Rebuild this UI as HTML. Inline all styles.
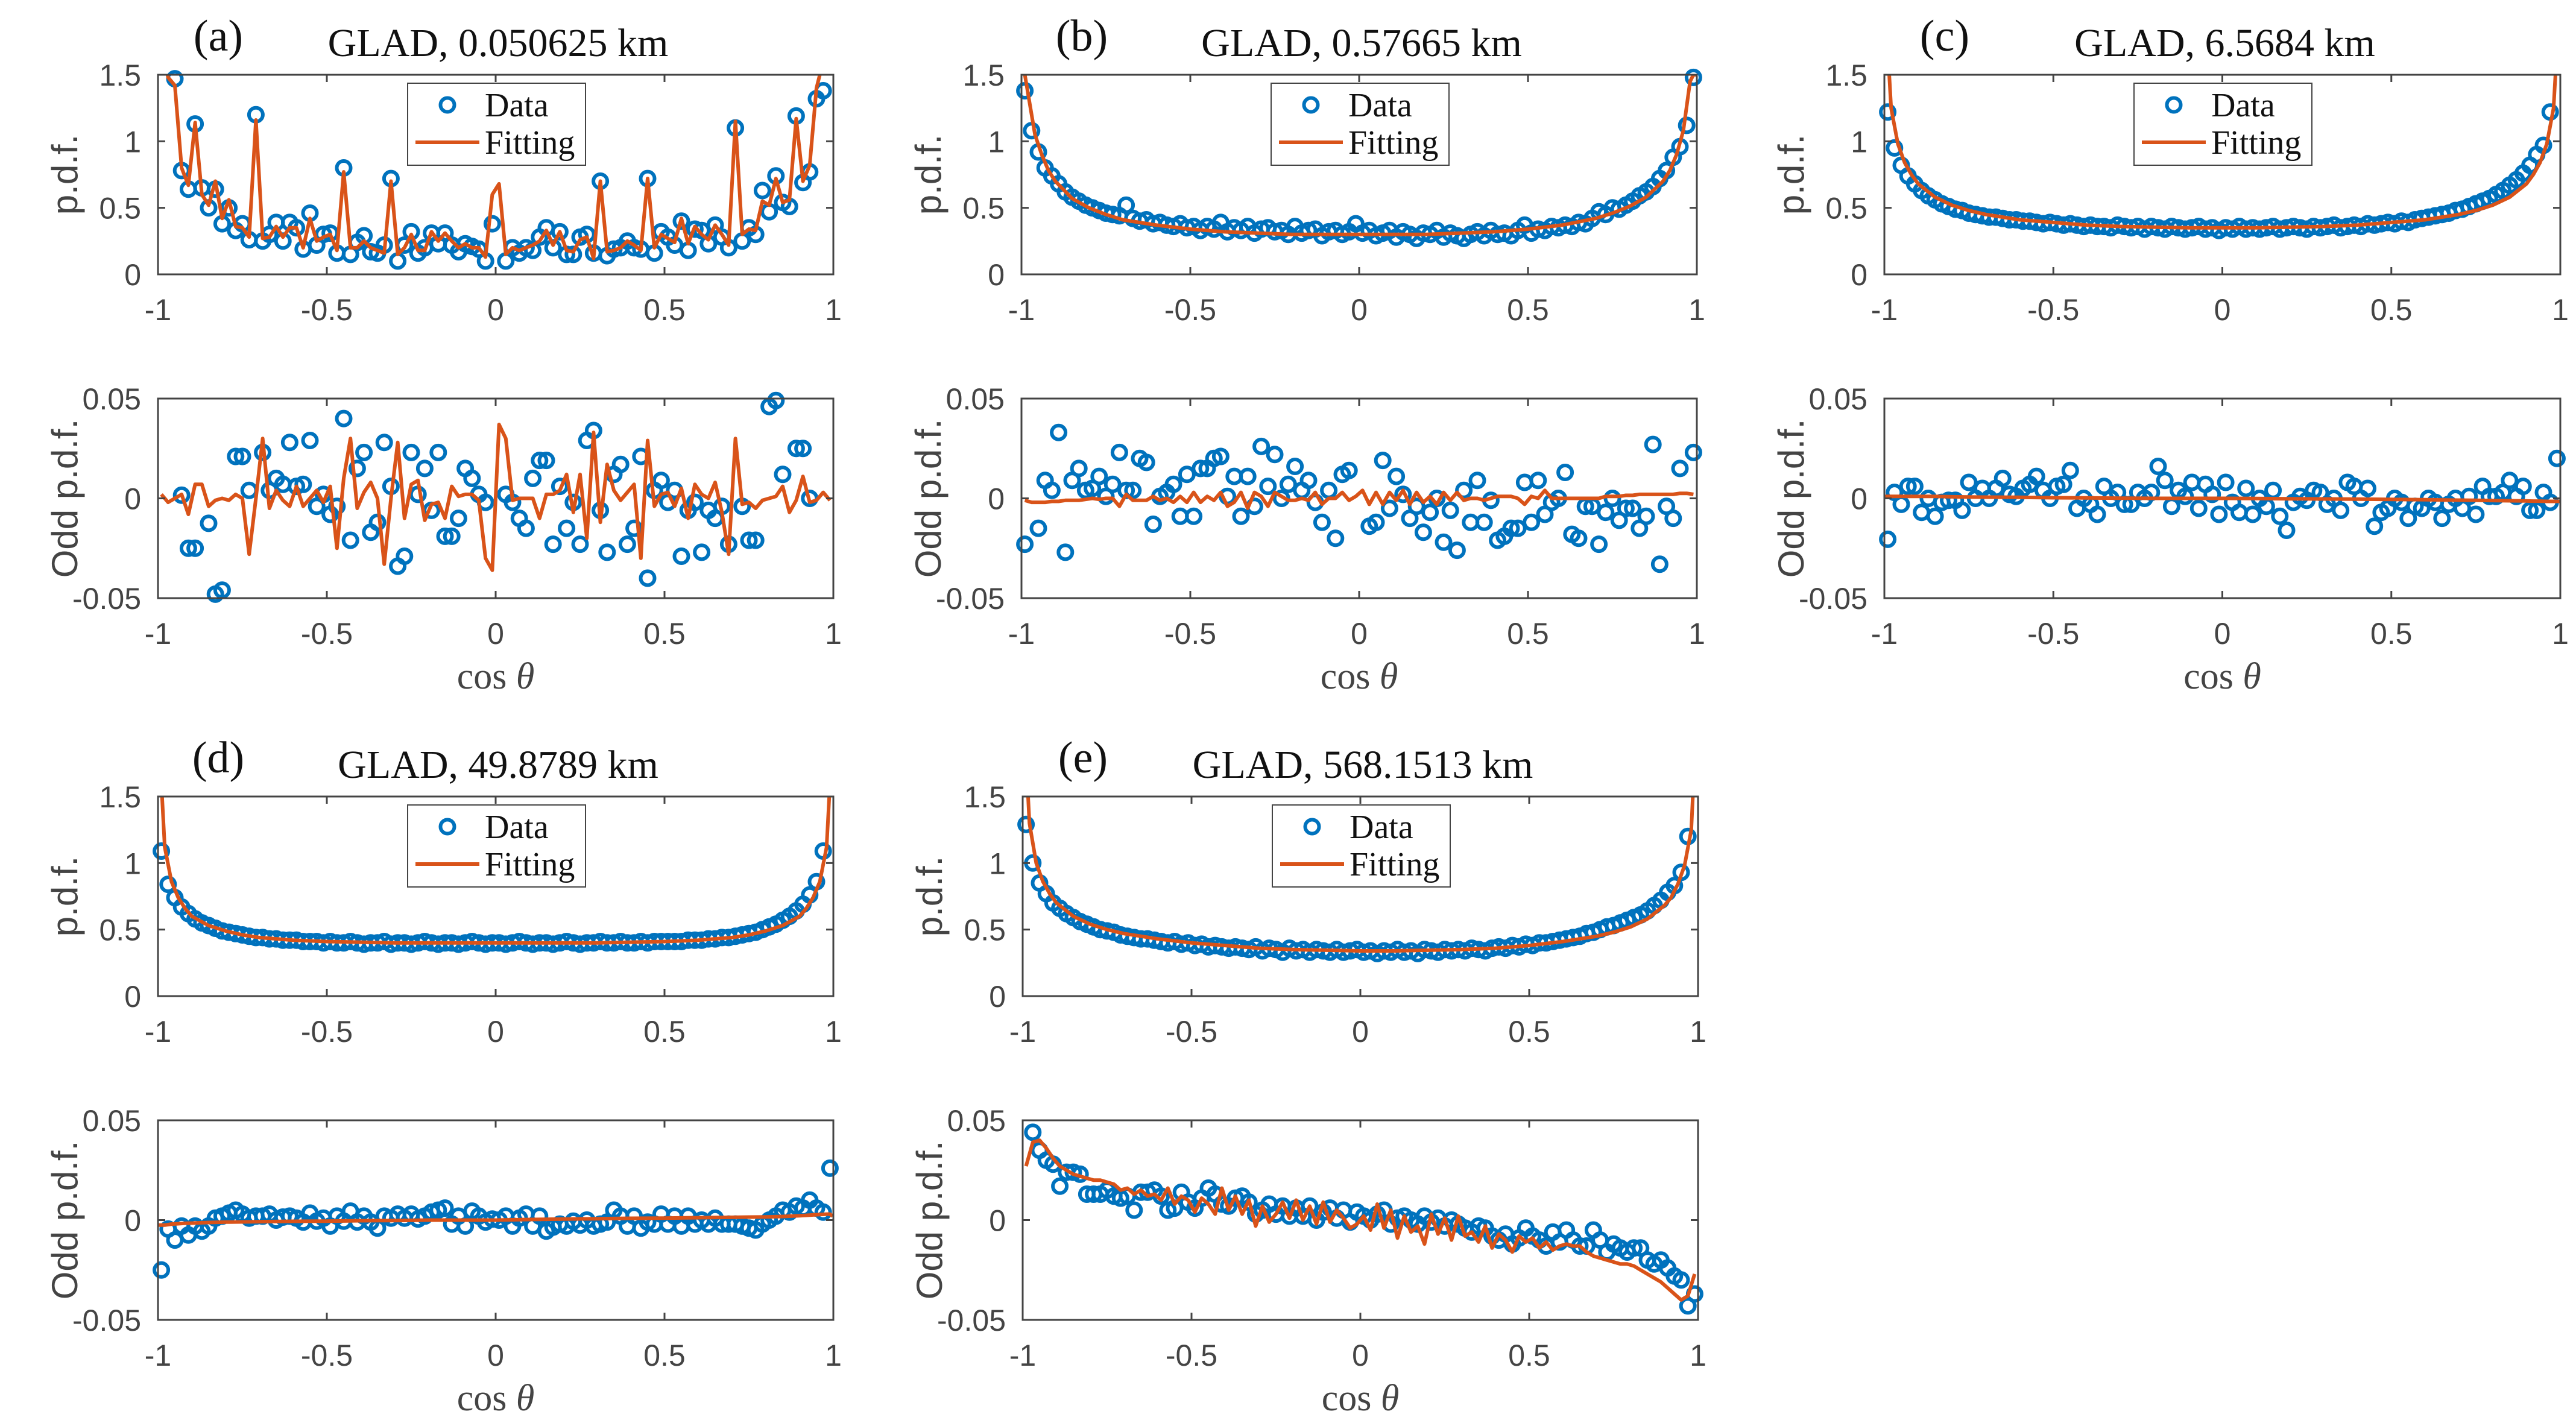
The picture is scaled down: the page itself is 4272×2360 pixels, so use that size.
<!DOCTYPE html>
<html><head><meta charset="utf-8"><style>
html,body{margin:0;padding:0;background:#fff;}
svg{display:block;}
</style></head><body>
<svg id="fig" width="4272" height="2360" viewBox="0 0 4272 2360" xmlns="http://www.w3.org/2000/svg"></svg>
<script>
// ---------- data (100 bins, cos theta = -0.99 + 0.02 i) ----------
const fitX = [-0.998,-0.99,-0.98,-0.96,-0.94,-0.92,-0.9,-0.85,-0.8,-0.75,-0.7,-0.6,-0.5,-0.4,-0.3,-0.2,-0.1,0,0.1,0.2,0.3,0.4,0.5,0.6,0.7,0.75,0.8,0.85,0.9,0.92,0.94,0.96,0.98,0.99,0.998];
const xTicks = [-1,-0.5,0,0.5,1];
const xTickLabels = ["-1","-0.5","0","0.5","1"];
const pdfTicks = [0,0.5,1,1.5];
const pdfTickLabels = ["0","0.5","1","1.5"];
const oddTicks = [-0.05,0,0.05];
const oddTickLabels = ["-0.05","0","0.05"];

const aPdf = [null,null,1.47,0.78,0.64,1.13,0.65,0.5,0.64,0.38, 0.5,0.33,0.38,0.26,1.2,0.25,0.3,0.39,0.25,0.39, 0.35,0.19,0.46,0.22,0.3,0.31,0.16,0.8,0.15,0.24, 0.29,0.17,0.16,0.22,0.72,0.1,0.22,0.32,0.16,0.2, 0.31,0.23,0.31,0.22,0.17,0.23,0.21,0.19,0.1,0.38, null,0.1,0.2,0.16,0.2,0.18,0.28,0.35,0.2,0.32, 0.15,0.15,0.28,0.3,0.16,0.7,0.14,0.19,0.2,0.25, 0.2,0.19,0.72,0.16,0.32,0.28,0.22,0.4,0.18,0.34, 0.33,0.23,0.37,0.28,0.2,1.1,0.25,0.35,0.3,0.63, 0.47,0.74,0.54,0.51,1.19,0.69,0.77,1.32,1.38,null];
const aPdfFit = [1.7,1.48,1.42,0.8,0.67,1.14,0.6,0.52,0.7,0.42, 0.56,0.36,0.35,0.28,1.16,0.27,0.28,0.36,0.28,0.35, 0.35,0.2,0.42,0.25,0.28,0.3,0.18,0.77,0.2,0.2, 0.25,0.2,0.18,0.16,0.7,0.15,0.2,0.3,0.18,0.18, 0.32,0.25,0.31,0.25,0.2,0.23,0.2,0.2,0.13,0.6, 0.68,0.15,0.2,0.18,0.2,0.22,0.25,0.33,0.22,0.32, 0.18,0.17,0.26,0.28,0.12,0.7,0.17,0.18,0.2,0.25, 0.22,0.18,0.72,0.2,0.3,0.27,0.24,0.42,0.23,0.36, 0.3,0.26,0.37,0.3,0.22,1.15,0.3,0.34,0.33,0.55, 0.52,0.72,0.54,0.56,1.17,0.7,0.82,1.4,1.6,2.0];
const aOdd = [null,null,null,0.0016,-0.025,-0.025,null,-0.0125,-0.048,-0.046, null,0.021,0.021,0.004,null,0.023,0.004,0.01,0.007,0.028, 0.006,0.007,0.029,-0.004,0.002,-0.008,-0.004,0.04,-0.021,0.015, 0.023,-0.017,-0.012,0.028,0.006,-0.034,-0.029,0.023,0.002,0.015, -0.006,0.023,-0.019,-0.019,-0.01,0.015,0.01,0.002,-0.002,null, null,0.002,-0.002,-0.01,-0.015,0.01,0.019,0.019,-0.023,0.006, -0.015,-0.002,-0.023,0.029,0.034,-0.006,-0.027,0.012,0.017,-0.023, -0.015,0.021,-0.04,0.004,0.009,-0.002,0.004,-0.029,-0.006,-0.002, -0.027,-0.006,-0.01,-0.004,-0.023,null,-0.004,-0.021,-0.021,null, 0.046,0.049,0.012,null,0.025,0.025,0,null,null,null];
const aOddFit = [0.002,-0.002,0,0.002,-0.008,0.007,0.007,-0.004,-0.001,0, -0.001,0.002,0,-0.028,0,0.03,-0.005,0.004,-0.001,-0.004, 0.006,-0.004,0,0.004,-0.002,0.006,-0.025,0.01,0.03,-0.005, 0.003,0.008,0,-0.033,0,0.028,-0.01,0.007,0.009,-0.011, -0.003,-0.002,-0.01,0.006,0.001,0.002,0.002,-0.001,-0.03,-0.036, 0.037,0.03,-0.001,0,0,0,-0.01,0.002,0.002,0.004, 0.012,-0.007,0.012,-0.02,0.033,-0.012,0.017,0.004,-0.001,0.003, 0.007,-0.03,0.029,-0.004,0.002,0.003,-0.004,0.005,-0.01,0.007, 0.002,0,0.008,-0.007,-0.028,0.03,-0.003,-0.002,-0.005,-0.001, 0,0.001,0.006,-0.007,-0.001,0.011,-0.002,-0.001,0.003,-0.001];

const bPdf = [1.38,1.08,0.92,0.8,0.74,0.68,0.62,0.58,0.55,0.52, 0.5,0.48,0.46,0.45,0.44,0.52,0.42,0.4,0.41,0.38, 0.39,0.37,0.36,0.38,0.35,0.36,0.33,0.36,0.34,0.39, 0.32,0.35,0.33,0.36,0.31,0.34,0.35,0.32,0.33,0.3, 0.36,0.31,0.33,0.34,0.29,0.32,0.33,0.3,0.32,0.38, 0.31,0.33,0.29,0.31,0.33,0.28,0.32,0.3,0.27,0.31, 0.3,0.33,0.28,0.31,0.29,0.27,0.3,0.32,0.29,0.33, 0.3,0.31,0.29,0.33,0.37,0.31,0.34,0.33,0.36,0.35, 0.37,0.36,0.39,0.38,0.42,0.47,0.45,0.5,0.49,0.52, 0.55,0.59,0.62,0.66,0.72,0.78,0.88,0.96,1.12,1.48];
const bPdfFit = [1.6,1.5,1.35,1.05,0.9,0.78,0.7,0.57,0.5,0.45,0.41,0.37,0.34,0.32,0.31,0.3,0.3,0.3,0.3,0.3,0.31,0.32,0.34,0.37,0.42,0.46,0.51,0.58,0.7,0.78,0.9,1.08,1.45,1.5,1.5];
const bOdd = [-0.023,null,-0.015,0.009,0.004,0.033,-0.027,0.009,0.015,0.004, 0.005,0.011,0.001,0.007,0.023,0.004,0.004,0.02,0.018,-0.013, 0.001,0.003,0.007,-0.009,0.012,-0.009,0.015,0.015,0.02,0.021, 0.001,0.011,-0.009,0.011,-0.004,0.026,0.006,0.022,0.0,0.007, 0.016,0.004,0.009,-0.002,-0.012,0.004,-0.02,0.012,0.014,null, null,-0.014,-0.012,0.019,-0.005,0.011,0.002,-0.01,-0.004,-0.017, -0.007,0,-0.022,-0.006,-0.026,0.004,-0.012,0.009,-0.012,-0.001, -0.021,-0.019,-0.015,-0.015,0.008,-0.012,0.009,-0.008,-0.002,0, 0.013,-0.018,-0.02,-0.004,-0.004,-0.023,-0.007,0,-0.011,-0.005, -0.005,-0.015,-0.009,0.027,-0.033,-0.004,-0.01,0.015,null,0.023];
const bOddFit = [-0.001,-0.002,-0.002,-0.002,-0.0015,-0.0015,-0.001,-0.001,-0.001,-0.0005, 0,-0.0005,0,0,-0.004,0.002,-0.001,-0.001,-0.001,0.001, -0.001,0,-0.002,0.001,-0.002,0.003,-0.002,0.001,-0.001,0.003, -0.004,-0.002,0.003,-0.005,0.003,0.001,-0.004,0.003,0.001,-0.001, -0.001,0,-0.001,0.003,-0.003,0.0,0.0,0.003,-0.001,0.001, 0.004,-0.003,0.003,-0.003,0.003,-0.001,0.004,-0.003,0.003,-0.002, 0.001,-0.003,0.003,-0.001,0.003,-0.001,0.0,0.0,-0.001,0.0, 0.001,0.001,0.001,0.0,-0.003,0.001,0.0,0.004,0.0,0.0, 0.0,0.0,0.0,0.0,0.0,0.0,0.001,0.001,0.001,0.0015, 0.0015,0.002,0.002,0.002,0.002,0.002,0.002,0.0025,0.0025,0.002];

const cPdf = [1.22,0.95,0.82,0.74,0.68,0.63,0.59,0.56,0.53,0.51, 0.49,0.48,0.46,0.45,0.44,0.43,0.43,0.42,0.41,0.41, 0.4,0.4,0.39,0.38,0.39,0.38,0.37,0.38,0.37,0.36, 0.37,0.36,0.36,0.35,0.37,0.36,0.35,0.36,0.34,0.36, 0.35,0.34,0.36,0.35,0.34,0.35,0.36,0.34,0.35,0.33, 0.35,0.34,0.36,0.34,0.35,0.34,0.35,0.36,0.34,0.35, 0.36,0.35,0.34,0.36,0.35,0.36,0.37,0.35,0.36,0.37, 0.36,0.38,0.37,0.38,0.39,0.38,0.4,0.39,0.41,0.42, 0.43,0.44,0.45,0.46,0.48,0.49,0.51,0.53,0.55,0.57, 0.6,0.63,0.67,0.71,0.76,0.82,0.9,0.97,1.22,null];
const cPdfFit = [3.0,1.7,1.25,0.98,0.84,0.75,0.68,0.58,0.52,0.48,0.45,0.41,0.39,0.37,0.36,0.355,0.35,0.35,0.35,0.355,0.36,0.37,0.39,0.41,0.45,0.48,0.52,0.58,0.68,0.75,0.84,0.98,1.25,1.7,3.0];
const cOdd = [-0.0205,0.003,-0.003,0.006,0.006,-0.007,0,-0.009,-0.002,-0.001, -0.001,-0.006,0.008,0,0.005,0,0.005,0.01,0.002,0.001, 0.005,0.007,0.011,0.004,0,0.006,0.007,0.014,-0.005,0, -0.003,-0.008,0.006,0,0.003,-0.003,-0.003,0.003,0,0.003, 0.016,0.009,-0.004,0.004,0.001,0.008,-0.005,0.007,0.002,-0.008, 0.008,-0.002,-0.007,0.005,-0.008,0,-0.004,0.004,-0.009,-0.016, -0.002,0.001,-0.001,0.004,0.003,-0.003,0,-0.006,0.008,0.006, 0,0.005,-0.014,-0.007,-0.005,0,-0.002,-0.01,-0.004,-0.005, 0,-0.002,-0.01,-0.003,0,-0.005,0.001,-0.008,0.006,0.001, 0.001,0.003,0.009,0.001,0.006,-0.006,-0.006,0.003,-0.002,0.02];
const cOddFit = [0.001,0.001,0.001,0.001,0.001,0.001,0.001,0.001,0.0008,0.0007,0.0006,0.0005,0.0003,0.0002,0.0001,0,0,0,-0.0001,-0.0002,-0.0003,-0.0004,-0.0005,-0.0007,-0.0009,-0.001,-0.0011,-0.0012,-0.0013,-0.0014,-0.0014,-0.0015,-0.0015,-0.0015,-0.0015];

const dPdf = [1.09,0.84,0.74,0.67,0.62,0.58,0.55,0.53,0.51,0.49, 0.48,0.47,0.46,0.45,0.44,0.44,0.43,0.43,0.42,0.42, 0.42,0.41,0.41,0.41,0.4,0.41,0.4,0.4,0.41,0.4, 0.39,0.4,0.4,0.41,0.39,0.4,0.4,0.39,0.4,0.41, 0.4,0.39,0.4,0.4,0.39,0.4,0.41,0.4,0.39,0.4, 0.4,0.39,0.4,0.41,0.4,0.39,0.4,0.4,0.39,0.4, 0.41,0.4,0.39,0.4,0.4,0.41,0.4,0.4,0.41,0.4, 0.4,0.41,0.4,0.41,0.41,0.41,0.41,0.41,0.42,0.42, 0.42,0.43,0.43,0.44,0.44,0.45,0.46,0.47,0.48,0.5, 0.52,0.54,0.57,0.6,0.64,0.69,0.76,0.86,1.09,null];
const dPdfFit = [3.0,1.6,1.12,0.86,0.74,0.66,0.6,0.53,0.49,0.46,0.44,0.42,0.41,0.405,0.4,0.4,0.4,0.4,0.4,0.4,0.4,0.405,0.41,0.42,0.44,0.46,0.49,0.53,0.6,0.66,0.74,0.86,1.12,1.6,3.0];
const dOdd = [-0.025,-0.0045,-0.01,-0.003,-0.0075,-0.003,-0.0055,-0.003,0.001,0.002, 0.0035,0.005,0.003,0.001,0.002,0.002,0.003,0,0.0015,0.002, 0.001,-0.001,0.0035,-0.0005,0.001,-0.003,0.002,-0.0005,0.0045,-0.001, 0.002,-0.001,-0.004,0.002,0.001,0.003,0.001,0.003,0.0005,0.002, 0.004,0.005,0.006,-0.002,0.002,-0.003,0.0045,0.002,-0.001,0.0005, 0,0.002,-0.003,0.001,0.003,-0.003,0.002,-0.0055,-0.0035,-0.002, -0.003,-0.0005,-0.0025,0,-0.003,-0.002,-0.001,0.005,0.002,-0.003, 0.002,-0.004,-0.001,-0.002,0.003,-0.002,0.002,-0.003,0.002,-0.002, 0,-0.002,0.001,-0.002,-0.002,-0.002,-0.003,-0.004,-0.005,-0.002, 0,0.002,0.005,0.004,0.007,0.006,0.01,0.006,0.004,0.026];
const dOddFit = [-0.0025,-0.0025,-0.0025,-0.002,-0.0018,-0.0016,-0.0015,-0.0012,-0.001,-0.0009,-0.0008,-0.0006,-0.0005,-0.0003,-0.0002,0,0,0,0.0003,0.0005,0.0007,0.0009,0.001,0.0012,0.0014,0.0015,0.0016,0.0018,0.0022,0.0024,0.0026,0.0028,0.003,0.003,0.002];

const ePdf = [1.29,1.0,0.85,0.77,0.7,0.66,0.62,0.59,0.56,0.54, 0.52,0.5,0.49,0.48,0.46,0.45,0.44,0.43,0.43,0.42, 0.41,0.4,0.41,0.39,0.4,0.38,0.39,0.37,0.38,0.37, 0.36,0.37,0.36,0.35,0.37,0.34,0.36,0.35,0.33,0.36, 0.34,0.35,0.33,0.35,0.34,0.33,0.35,0.33,0.34,0.35, 0.33,0.34,0.32,0.34,0.33,0.35,0.33,0.34,0.32,0.35, 0.34,0.33,0.35,0.34,0.35,0.34,0.36,0.35,0.34,0.36, 0.37,0.36,0.38,0.37,0.39,0.38,0.4,0.4,0.41,0.42, 0.43,0.44,0.45,0.47,0.48,0.5,0.52,0.53,0.55,0.57, 0.59,0.61,0.64,0.68,0.72,0.78,0.83,0.93,1.2,null];
const ePdfFit = [3.0,1.8,1.3,1.0,0.86,0.77,0.7,0.6,0.54,0.5,0.47,0.43,0.4,0.38,0.36,0.35,0.345,0.34,0.34,0.345,0.35,0.36,0.38,0.41,0.45,0.48,0.52,0.58,0.68,0.74,0.84,0.98,1.25,1.8,3.0];
const eOdd = [null,0.044,0.035,0.03,0.028,0.017,0.024,0.024,0.023,0.013, 0.013,0.013,0.015,0.012,0.011,0.012,0.005,0.014,0.014,0.015, 0.012,0.005,0.006,0.014,0.009,0.006,0.011,0.016,0.013,0.008, 0.007,0.011,0.012,0.009,0.003,0.005,0.008,0.003,0.007,0.002, 0.006,0.002,0.007,0.0,0.004,0.006,0.001,0.005,-0.001,0.004, 0.002,0.0,0.003,0.005,-0.002,0.001,0.002,0.0,-0.002,0.002, -0.001,0.001,-0.003,0.0,-0.002,-0.004,-0.006,-0.003,-0.004,-0.008, -0.01,-0.007,-0.012,-0.009,-0.004,-0.008,-0.01,-0.013,-0.006,-0.011, -0.005,-0.01,-0.013,-0.013,-0.005,-0.01,-0.016,-0.012,-0.014,-0.016, -0.014,-0.014,-0.02,-0.022,-0.02,-0.024,-0.028,-0.03,-0.043,-0.037];
const eOddFit = [0.027,0.039,0.04,0.036,0.031,0.027,0.025,0.023,0.022,0.021, 0.02,0.02,0.019,0.018,0.015,0.016,0.013,0.015,0.012,0.013, 0.01,0.016,0.008,0.012,0.01,0.004,0.011,0.008,0.003,0.016, 0.005,0.012,0.003,0.01,-0.003,0.007,-0.001,0.003,0.009,0.001, 0.01,0.0,0.007,-0.002,0.009,-0.001,0.005,0.001,-0.004,-0.002, 0.002,-0.005,0.008,-0.004,0.005,-0.009,0.002,-0.006,-0.003,-0.012, 0.003,-0.007,0.001,-0.01,0.002,-0.008,-0.006,-0.011,-0.003,-0.014, -0.007,-0.01,-0.016,-0.008,-0.011,-0.009,-0.014,-0.011,-0.015,-0.013, -0.012,-0.013,-0.013,-0.016,-0.018,-0.019,-0.02,-0.021,-0.022,-0.022, -0.023,-0.025,-0.027,-0.029,-0.031,-0.034,-0.037,-0.04,-0.038,-0.027];

const panelIds = ["a","b","c","d","e"];
const panelTitles = ["GLAD, 0.050625 km","GLAD, 0.57665 km","GLAD, 6.5684 km","GLAD, 49.8789 km","GLAD, 568.1513 km"];

// ---------- layout ----------
const NS = "http://www.w3.org/2000/svg";
const svg = document.getElementById("fig");
const BLUE = "#0072BD", ORANGE = "#D95319", AX = "#444444";
const layout = [
  {l:262,w:1120,tTop:124,oTop:661},
  {l:1694,w:1120,tTop:124,oTop:661},
  {l:3125,w:1121,tTop:124,oTop:661},
  {l:262,w:1120,tTop:1321,oTop:1858},
  {l:1696,w:1120,tTop:1321,oTop:1858}
];
const H = 331;
const series = [
  [aPdf,aPdfFit,aOdd,aOddFit],
  [bPdf,bPdfFit,bOdd,bOddFit],
  [cPdf,cPdfFit,cOdd,cOddFit],
  [dPdf,dPdfFit,dOdd,dOddFit],
  [ePdf,ePdfFit,eOdd,eOddFit]
];
function mk(tag, attrs, parent){
  const e = document.createElementNS(NS, tag);
  for (const k in attrs) e.setAttribute(k, attrs[k]);
  (parent||svg).appendChild(e);
  return e;
}
function binX(i){ return -0.99 + 0.02*i; }
let clipN = 0;

function drawAxes(g, L, T, W, ymin, ymax, yTicks, yLabels, data, fit, fitIsGrid, ylabel, showXLabel, legend, name){
  const sx = v => L + (v+1)/2*W;
  const sy = v => T + H - (v-ymin)/(ymax-ymin)*H;
  const cid = "clip"+(clipN++);
  const cp = mk("clipPath",{id:cid},g);
  mk("rect",{x:L,y:T,width:W,height:H},cp);
  const dg = mk("g",{},g);
  
  
  data.forEach((v,i)=>{
    if (v===null || v>ymax || v<ymin) return;
    const c = mk("circle",{cx:sx(binX(i)).toFixed(1),cy:sy(v).toFixed(1),r:11.5,fill:"none",stroke:BLUE,"stroke-width":6},dg);
    
    
  });
  let pts = [];
  fit.forEach((v,i)=>{
    const xv = fitIsGrid ? binX(i) : fitX[i];
    pts.push(sx(xv).toFixed(1)+","+sy(v).toFixed(1));
  });
  const pl = mk("polyline",{points:pts.join(" "),fill:"none",stroke:ORANGE,"stroke-width":6,"stroke-linejoin":"round","clip-path":"url(#"+cid+")"},g);
  
  
  const box = mk("rect",{x:L,y:T,width:W,height:H,fill:"none",stroke:AX,"stroke-width":3},g);
  
  
  xTicks.forEach((t,k)=>{
    const x = sx(t);
    mk("line",{x1:x,y1:T+H,x2:x,y2:T+H-12,stroke:AX,"stroke-width":3},g);
    mk("line",{x1:x,y1:T,x2:x,y2:T+12,stroke:AX,"stroke-width":3},g);
    const tx = mk("text",{x:x,y:T+H+76,"text-anchor":"middle","font-family":"Liberation Sans, sans-serif","font-size":50,fill:AX},g);
    tx.textContent = xTickLabels[k];
    
    
  });
  yTicks.forEach((t,k)=>{
    const y = sy(t);
    mk("line",{x1:L,y1:y,x2:L+12,y2:y,stroke:AX,"stroke-width":3},g);
    mk("line",{x1:L+W,y1:y,x2:L+W-12,y2:y,stroke:AX,"stroke-width":3},g);
    const ty = mk("text",{x:L-28,y:y+18,"text-anchor":"end","font-family":"Liberation Sans, sans-serif","font-size":50,fill:AX},g);
    ty.textContent = yLabels[k];
    
    
  });
  const yl = mk("text",{x:0,y:0,transform:"translate("+(L-134)+","+(T+H/2)+") rotate(-90)","text-anchor":"middle","font-family":"Liberation Sans, sans-serif","font-size":60,fill:AX},g);
  yl.textContent = ylabel;
  
  
  if (showXLabel){
    const xl = mk("text",{x:L+W/2,y:T+H+150,"text-anchor":"middle","font-family":"Liberation Serif, serif","font-size":62,fill:AX},g);
    
    
    xl.appendChild(document.createTextNode("cos "));
    const ts = mk("tspan",{"font-style":"italic"},xl);
    ts.textContent = "θ";
  }
  if (legend){
    const lg = mk("g",{},g);
    
    
    const bx = L+414, by = T+14;
    mk("rect",{x:bx,y:by,width:295,height:136,fill:"#fff",stroke:AX,"stroke-width":2},lg);
    mk("circle",{cx:bx+66,cy:by+36,r:11.5,fill:"none",stroke:BLUE,"stroke-width":6},lg);
    mk("line",{x1:bx+13,y1:by+98,x2:bx+119,y2:by+98,stroke:ORANGE,"stroke-width":6},lg);
    const t1 = mk("text",{x:bx+128,y:by+55,"font-family":"Liberation Serif, serif","font-size":56,fill:"#111"},lg);
    t1.textContent = "Data";
    
    
    const t2 = mk("text",{x:bx+128,y:by+117,"font-family":"Liberation Serif, serif","font-size":56,fill:"#111"},lg);
    t2.textContent = "Fitting";
    
    
  }
}

layout.forEach((P,k)=>{
  const g = mk("g",{});
  
  
  const s = series[k];
  drawAxes(g, P.l, P.tTop, P.w, 0, 1.5, pdfTicks, pdfTickLabels, s[0], s[1], s[1].length===100, "p.d.f.", false, true, "pdf-"+panelIds[k]);
  drawAxes(g, P.l, P.oTop, P.w, -0.05, 0.05, oddTicks, oddTickLabels, s[2], s[3], s[3].length===100, "Odd p.d.f.", true, false, "odd-"+panelIds[k]);
  const lab = mk("text",{x:P.l+100,y:P.tTop-40,"text-anchor":"middle","font-family":"Liberation Serif, serif","font-size":74,fill:"#111"},g);
  lab.textContent = "("+panelIds[k]+")";
  
  
  const tt = mk("text",{x:P.l+P.w/2+4,y:P.tTop-31,"text-anchor":"middle","font-family":"Liberation Serif, serif","font-size":66,fill:"#111"},g);
  tt.textContent = panelTitles[k];
  
  
});
</script>
</body></html>
